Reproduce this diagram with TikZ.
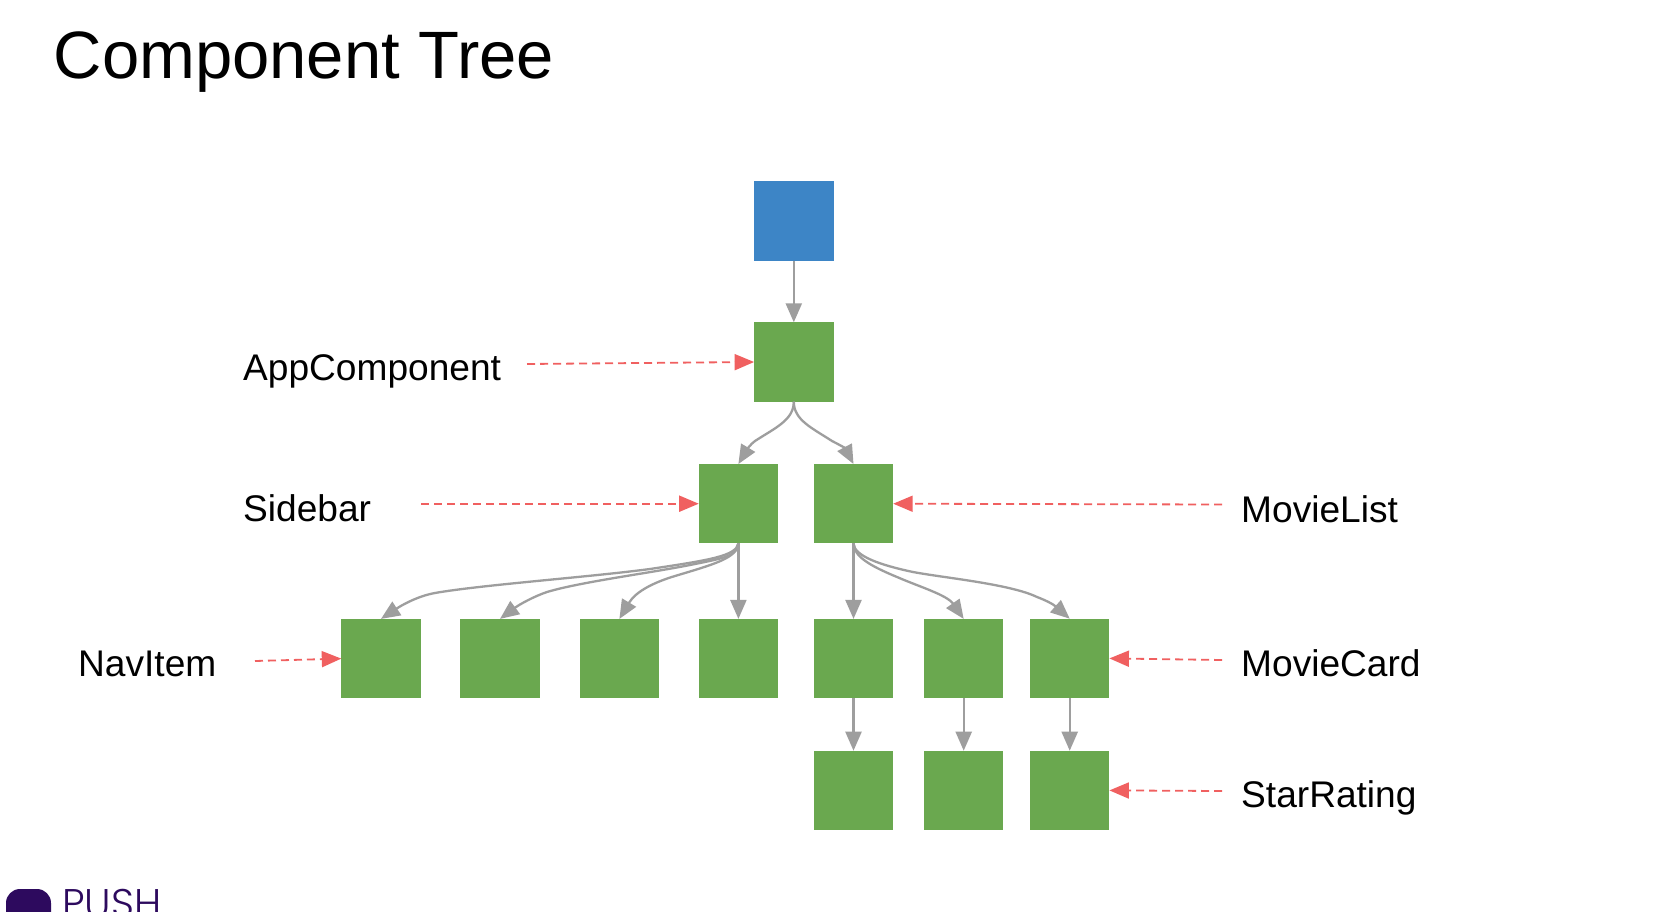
\documentclass[tikz,border=0pt]{standalone}
\usepackage{fontspec}
\setmainfont{Liberation Sans}
\newfontfamily\pushfont{Poppins Light}
\usetikzlibrary{arrows.meta}
\definecolor{gr}{HTML}{6AA84F}
\definecolor{bl}{HTML}{3D85C6}
\definecolor{ln}{HTML}{9E9E9E}
\definecolor{rd}{HTML}{F06060}
\definecolor{pur}{HTML}{2D0A5E}
\tikzset{
  box/.style={minimum width=79.4pt,minimum height=79.4pt,inner sep=0pt,outer sep=0pt,fill=gr,draw=none},
  link/.style={draw=ln,line width=2.3pt,-{Triangle[length=19pt,width=16pt,fill=ln]}},
  ref/.style={draw=rd,line width=1.8pt,dash pattern=on 8pt off 5pt,-{Triangle[length=19.5pt,width=16pt,fill=rd]}},
  lab/.style={font=\fontsize{37.1pt}{42pt}\selectfont,anchor=base west,inner sep=0pt,text=black},
}
\begin{document}
\begin{tikzpicture}[x=1pt,y=-1pt]
\useasboundingbox (0,0) rectangle (1680,912);
\fill[white] (0,0) rectangle (1680,912);
\node[anchor=base west,inner sep=0pt,font=\fontsize{67pt}{72pt}\selectfont] (title) at (53.5,79) {Component Tree};
% boxes
\node[box,fill=bl] (root) at (793.8,221) {};
\node[box] (app) at (793.8,362) {};
\node[box] (side) at (738.4,503.7) {};
\node[box] (list) at (853.5,503.7) {};
\node[box] (n1) at (381,658.6) {};
\node[box] (n2) at (500,658.6) {};
\node[box] (n3) at (619.4,658.6) {};
\node[box] (n4) at (738.4,658.6) {};
\node[box] (c1) at (853.5,658.6) {};
\node[box] (c2) at (963.7,658.6) {};
\node[box] (c3) at (1069.7,658.4) {};
\node[box] (s1) at (853.5,790.4) {};
\node[box] (s2) at (963.7,790.4) {};
\node[box] (s3) at (1069.7,790.4) {};
% links
\draw[link] (root.south) -- (app.north);
\draw[link] (app.south) .. controls (793.8,420) and (775,428) .. (755,441) .. controls (751,444) and (748,448) .. (side.north);
\draw[link] (app.south) .. controls (793.8,420) and (812,428) .. (832,441) .. controls (838,444) and (845,448) .. (list.north);
\draw[link] (side.south) .. controls (736,556) and (710,560) .. (650,569) .. controls (590,577) and (480,585) .. (435,593) .. controls (418,596) and (402,605) .. (n1.north);
\draw[link] (side.south) .. controls (737,556) and (725,558) .. (690,565) .. controls (650,573) and (580,582) .. (547,592) .. controls (535,596) and (520,604) .. (n2.north);
\draw[link] (side.south) .. controls (737,558) and (715,564) .. (675,576) .. controls (655,582) and (636,591) .. (n3.north);
\draw[link] (side.south) -- (n4.north);
\draw[link] (list.south) -- (c1.north);
\draw[link] (list.south) .. controls (854,556) and (868,565) .. (897,577) .. controls (920,587) and (947,595) .. (c2.north);
\draw[link] (list.south) .. controls (854,556) and (880,565) .. (913,572) .. controls (945,578) and (1010,584) .. (1037,597) .. controls (1045,600) and (1053,604) .. (c3.north);
\draw[link] (c1.south) -- (s1.north);
\draw[link] (c2.south) -- (s2.north);
\draw[link] (c3.south) -- (s3.north);
% labels
\node[lab] (lapp) at (243,380) {AppComponent};
\node[lab] (lside) at (243,521) {Sidebar};
\node[lab] (lnav) at (78,676) {NavItem};
\node[lab] (llist) at (1241,522) {MovieList};
\node[lab] (lcard) at (1241,676) {MovieCard};
\node[lab] (lstar) at (1241,807) {StarRating};
\coordinate (a0) at (527,364);
\coordinate (a1) at (421,503.7);
\coordinate (a2) at (255,661);
\coordinate (a3) at (1222,504.5);
\coordinate (a4) at (1222,660);
\coordinate (a5) at (1222,791);
\draw[ref] (a0) -- (app.west);
\draw[ref] (a1) -- (side.west);
\draw[ref] (a2) -- (n1.west);
\draw[ref] (a3) -- (list.east);
\draw[ref] (a4) -- (c3.east);
\draw[ref] (a5) -- (s3.east);
% logo
\fill[pur,rounded corners=14pt] (6,889) rectangle (51,930);
\node[anchor=base west,inner sep=0pt,text=pur,font=\pushfont\fontsize{40pt}{44pt}\selectfont] (push) at (62,917) {PUSH};
\end{tikzpicture}
\end{document}
